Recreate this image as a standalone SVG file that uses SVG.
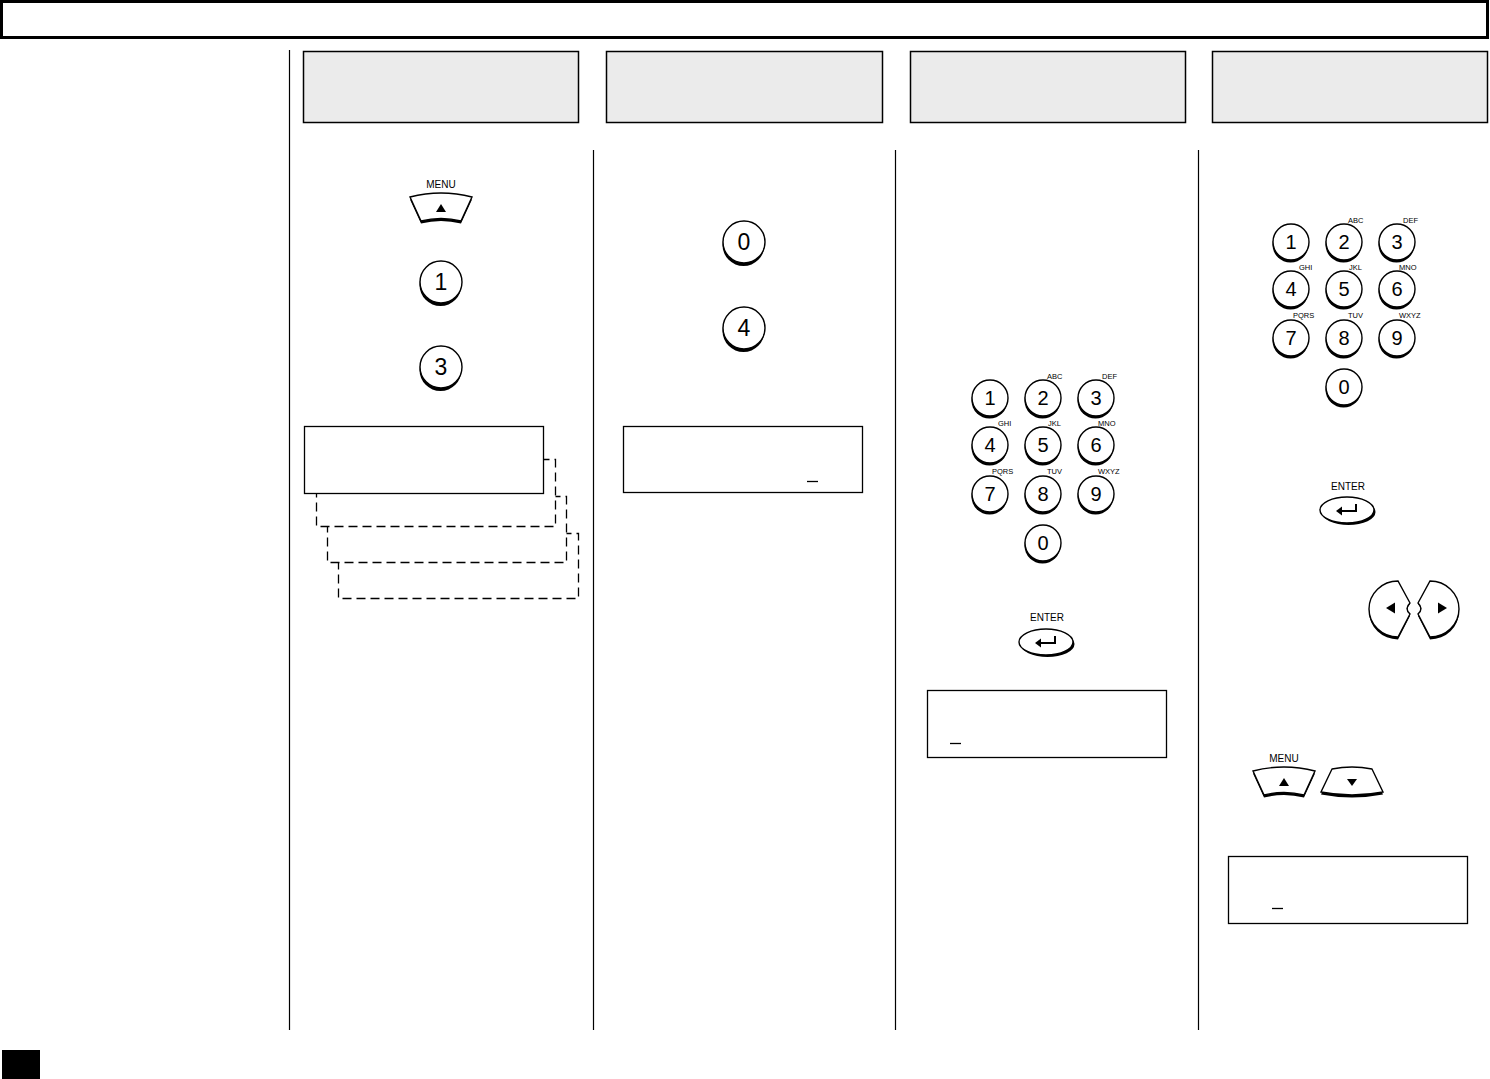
<svg xmlns="http://www.w3.org/2000/svg" xmlns:xlink="http://www.w3.org/1999/xlink" width="1490" height="1079" viewBox="0 0 1490 1079">
<style>
text{font-family:"Liberation Sans",Arial,sans-serif;fill:#000}
.lbl{font-size:10px;text-anchor:middle}
.sm{font-size:7.5px}
.d21{font-size:23px;text-anchor:middle}
.d18{font-size:20px;text-anchor:middle}
.kf{fill:#fff;stroke:#000;stroke-width:1.4}
.box{fill:#fff;stroke:#000;stroke-width:1.3}
.dash{fill:#fff;stroke:#000;stroke-width:1.3;stroke-dasharray:9 5}
.hdr{fill:#ebebeb;stroke:#000;stroke-width:1.5}
.sep{stroke:#000;stroke-width:1.2;fill:none}
.cur{stroke:#000;stroke-width:1.3}
</style>
<defs>
<g id="k21"><circle cx="-0.5" cy="3" r="21"/><circle r="21" class="kf"/></g>
<g id="k18"><circle cx="-0.5" cy="2.5" r="18"/><circle r="18" class="kf"/></g>
<g id="ent"><ellipse cx="1.5" cy="2" rx="27" ry="13"/><ellipse rx="27" ry="13" class="kf"/><path d="M-6,1 H9 V-6" fill="none" stroke="#000" stroke-width="2"/><path d="M-11,1 L-5,-3.5 L-5,5.5 Z"/></g>
<g id="up"><path d="M-31,-11 Q0,-19 31,-11 L20,13 Q0,8 -20,13 Z" transform="translate(0,2.5)"/><path d="M-31,-11 Q0,-19 31,-11 L20,13 Q0,8 -20,13 Z" class="kf"/><path d="M-5,4 L5,4 L0,-4 Z"/></g>
<g id="dn"><path d="M-20,-13 Q0,-17 20,-13 L31,10 Q0,16 -31,10 Z" transform="translate(0,2.5)"/><path d="M-20,-13 Q0,-17 20,-13 L31,10 Q0,16 -31,10 Z" class="kf"/><path d="M-5,-3 L5,-3 L0,4 Z"/></g>
<g id="pad">
<use xlink:href="#k18" x="0" y="0"/><text class="d18" x="0" y="7">1</text>
<use xlink:href="#k18" x="53" y="0"/><text class="d18" x="53" y="7">2</text>
<use xlink:href="#k18" x="106" y="0"/><text class="d18" x="106" y="7">3</text>
<use xlink:href="#k18" x="0" y="47"/><text class="d18" x="0" y="54">4</text>
<use xlink:href="#k18" x="53" y="47"/><text class="d18" x="53" y="54">5</text>
<use xlink:href="#k18" x="106" y="47"/><text class="d18" x="106" y="54">6</text>
<use xlink:href="#k18" x="0" y="96"/><text class="d18" x="0" y="103">7</text>
<use xlink:href="#k18" x="53" y="96"/><text class="d18" x="53" y="103">8</text>
<use xlink:href="#k18" x="106" y="96"/><text class="d18" x="106" y="103">9</text>
<use xlink:href="#k18" x="53" y="145"/><text class="d18" x="53" y="152">0</text>
<text class="sm" x="57" y="-19">ABC</text>
<text class="sm" x="112" y="-19">DEF</text>
<text class="sm" x="8" y="28">GHI</text>
<text class="sm" x="58" y="28">JKL</text>
<text class="sm" x="108" y="28">MNO</text>
<text class="sm" x="2" y="76">PQRS</text>
<text class="sm" x="57" y="76">TUV</text>
<text class="sm" x="108" y="76">WXYZ</text>
</g>
</defs>
<rect width="1490" height="1079" fill="#fff"/>
<g id="frame">
<rect x="1.5" y="1.5" width="1486" height="36" fill="#fff" stroke="#000" stroke-width="3"/>
<rect x="2" y="1050" width="38" height="29" fill="#000"/>
</g>
<g id="connectors">
<line class="sep" x1="289.5" y1="50" x2="289.5" y2="1030"/>
<line class="sep" x1="593.5" y1="150" x2="593.5" y2="1030"/>
<line class="sep" x1="895.5" y1="150" x2="895.5" y2="1030"/>
<line class="sep" x1="1198.5" y1="150" x2="1198.5" y2="1030"/>
</g>
<g id="headers">
<rect class="hdr" x="303.5" y="51.5" width="275" height="71"/>
<rect class="hdr" x="606.5" y="51.5" width="276" height="71"/>
<rect class="hdr" x="910.5" y="51.5" width="275" height="71"/>
<rect class="hdr" x="1212.5" y="51.5" width="275" height="71"/>
</g>
<g id="col1">
<text class="lbl" x="441" y="188">MENU</text>
<use xlink:href="#up" x="441" y="208"/>
<use xlink:href="#k21" x="441" y="282"/><text class="d21" x="441" y="290">1</text>
<use xlink:href="#k21" x="441" y="367"/><text class="d21" x="441" y="375">3</text>
<rect class="dash" x="338.5" y="533.5" width="240" height="65"/>
<rect class="dash" x="327.5" y="496.5" width="239" height="66"/>
<rect class="dash" x="316.5" y="459.5" width="239" height="67"/>
<rect class="box" x="304.5" y="426.5" width="239" height="67"/>
</g>
<g id="col2">
<use xlink:href="#k21" x="744" y="242"/><text class="d21" x="744" y="250">0</text>
<use xlink:href="#k21" x="744" y="328"/><text class="d21" x="744" y="336">4</text>
<rect class="box" x="623.5" y="426.5" width="239" height="66"/>
<line class="cur" x1="807" y1="481.5" x2="818" y2="481.5"/>
</g>
<g id="col3">
<use xlink:href="#pad" x="990" y="398"/>
<text class="lbl" x="1047" y="621">ENTER</text>
<use xlink:href="#ent" x="1046" y="642"/>
<rect class="box" x="927.5" y="690.5" width="239" height="67"/>
<line class="cur" x1="950" y1="743.5" x2="961" y2="743.5"/>
</g>
<g id="col4">
<use xlink:href="#pad" x="1291" y="242"/>
<text class="lbl" x="1348" y="490">ENTER</text>
<use xlink:href="#ent" x="1347" y="510"/>
<g id="lr">
<path d="M1398,583.5 A29,28 0 0 0 1398,639.5 L1410,616 Q1405,610 1410,604 Z" fill="#000"/>
<path d="M1398,581 A29,28 0 0 0 1398,637 L1410,614 Q1404,608.5 1410,603 Z" class="kf"/>
<path d="M1386,608 L1395,602.5 L1395,613.5 Z"/>
<path d="M1430,583.5 A29,28 0 0 1 1430,639.5 L1418,616 Q1423,610 1418,604 Z" fill="#000"/>
<path d="M1430,581 A29,28 0 0 1 1430,637 L1418,614 Q1424,608.5 1418,603 Z" class="kf"/>
<path d="M1447,608 L1438,602.5 L1438,613.5 Z"/>
</g>
<text class="lbl" x="1284" y="762">MENU</text>
<use xlink:href="#up" x="1284" y="782"/>
<use xlink:href="#dn" x="1352" y="782"/>
<rect class="box" x="1228.5" y="856.5" width="239" height="67"/>
<line class="cur" x1="1272" y1="908.5" x2="1283" y2="908.5"/>
</g>
</svg>
